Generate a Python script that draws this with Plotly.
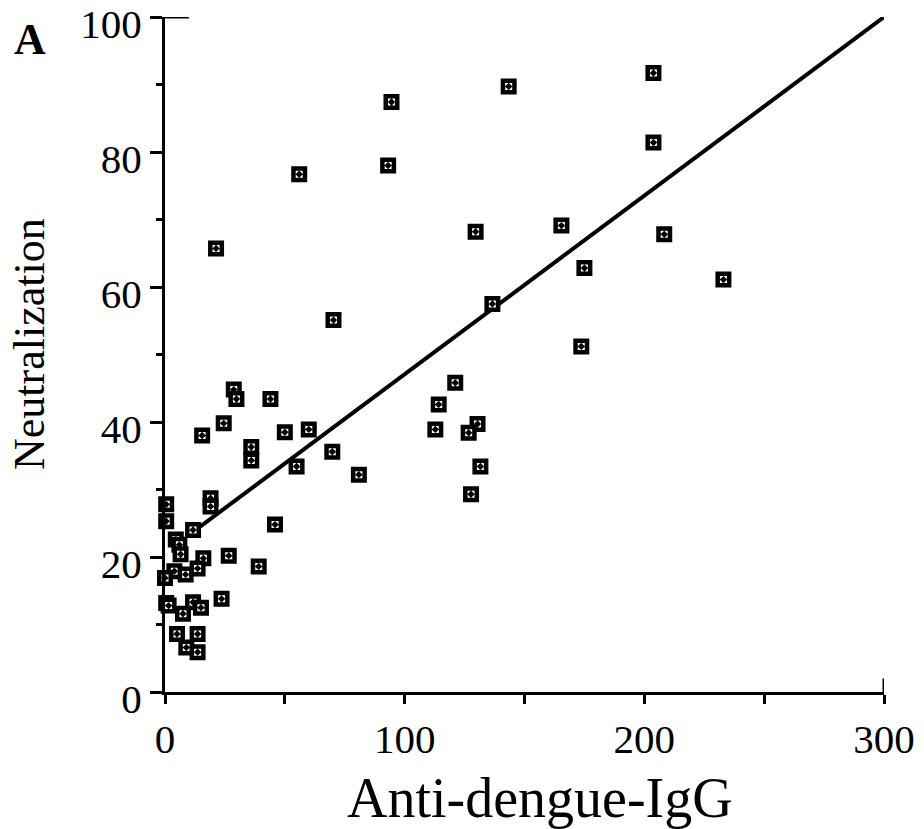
import plotly.graph_objects as go

# Anti-dengue-IgG (x) vs Neutralization (y)
igg = [0.5, 0.5, 19, 19, 11.7, 4.5, 6, 6.5, 16, 26.6, 39.1, 45.9, 3.9, 8.6, 13.6,
       0, 0.5, 1.5, 11.7, 15, 7.5, 23.6, 5, 13.6, 8.9, 13.6,
       28.7, 29.8, 44, 24.5, 15.5, 36, 36, 50, 60, 69.8, 54.9, 80.9,
       56, 21.3, 143.4, 94.5, 93.1, 129.6, 165.4, 70.3,
       203.8, 203.8, 208.3, 175, 233, 173.7, 136.6,
       121.1, 114.2, 112.8, 130.4, 126.7, 131.6, 127.7]
neutralization = [27.8, 25.3, 28.7, 27.5, 24.0, 22.6, 21.8, 20.4, 19.8, 20.2, 18.6, 24.8, 17.9, 17.4, 18.3,
                  16.9, 13.2, 12.8, 13.3, 12.5, 11.6, 13.8, 8.6, 8.6, 6.6, 5.9,
                  44.8, 43.4, 43.4, 39.8, 38.0, 36.3, 34.3, 38.5, 38.9, 35.6, 33.4, 32.2,
                  76.7, 65.7, 89.7, 87.4, 78.0, 68.2, 69.1, 55.1,
                  91.7, 81.4, 67.8, 62.8, 61.1, 51.2, 57.5,
                  45.8, 42.6, 38.9, 39.7, 38.4, 33.4, 29.3]

# regression line end points
fit_x = [12, 300]
fit_y = [23.8, 100.0]

x_ticks = [0, 100, 200, 300]
y_ticks = [0, 20, 40, 60, 80, 100]

FONT = "Liberation Serif"

fig = go.Figure()
fig.add_trace(go.Scatter(
    x=fit_x, y=fit_y, mode="lines",
    line=dict(color="black", width=4), showlegend=False, hoverinfo="skip",
    cliponaxis=False))
fig.add_trace(go.Scatter(
    x=igg, y=neutralization, mode="markers",
    marker=dict(symbol="square-dot", size=11.5, color="white",
                line=dict(color="black", width=4.5)),
    showlegend=False, cliponaxis=False))

fig.update_xaxes(
    range=[0, 300], tickvals=x_ticks, ticktext=[str(v) for v in x_ticks],
    showgrid=False, zeroline=False, showline=True, linecolor="black", linewidth=3,
    ticks="outside", ticklen=9, tickwidth=2.5, tickcolor="black",
    minor=dict(dtick=50, tick0=0, ticks="outside", ticklen=9, tickwidth=2.5, tickcolor="black", showgrid=False),
    tickfont=dict(family=FONT, size=41, color="black"),
    ticklabeloverflow="allow",
    automargin=False,
)
fig.update_yaxes(
    range=[0, 100], tickvals=y_ticks, ticktext=[str(v) for v in y_ticks],
    showgrid=False, zeroline=False, showline=True, linecolor="black", linewidth=3,
    ticks="outside", ticklen=12, tickwidth=2.5, tickcolor="black",
    minor=dict(dtick=10, tick0=0, ticks="outside", ticklen=6, tickwidth=2.5, tickcolor="black", showgrid=False),
    tickfont=dict(family=FONT, size=41, color="black"),
    ticklabelstandoff=0,
    ticklabelshift=7,
    ticklabeloverflow="allow",
    automargin=False,
)

# axis end caps (as in the original drawing)
fig.add_shape(type="line", xref="x", yref="y", x0=0, x1=10, y0=100, y1=100,
              line=dict(color="black", width=3))
fig.add_shape(type="line", xref="x", yref="y", x0=300, x1=300, y0=0, y1=2,
              line=dict(color="black", width=3))

fig.add_annotation(text="Anti-dengue-IgG", xref="paper", yref="paper", x=0.5216, y=-0.157,
                   xanchor="center", yanchor="middle", showarrow=False,
                   font=dict(family=FONT, size=56, color="black"))
fig.add_annotation(text="Neutralization", xref="paper", yref="paper", x=-0.1878, y=0.5156,
                   xanchor="center", yanchor="middle", showarrow=False, textangle=-90,
                   font=dict(family=FONT, size=44, color="black"))
fig.add_annotation(text="<b>A</b>", xref="paper", yref="paper", x=-0.1878, y=0.966,
                   xanchor="center", yanchor="middle", showarrow=False,
                   font=dict(family=FONT, size=44, color="black"))

fig.update_layout(
    width=924, height=829,
    margin=dict(l=165, r=40, t=17, b=137),
    plot_bgcolor="white", paper_bgcolor="white",
)

fig.write_html("out.html", config={"displayModeBar": False},
               post_script="document.body.style.margin='0';document.body.style.overflow='hidden';")
